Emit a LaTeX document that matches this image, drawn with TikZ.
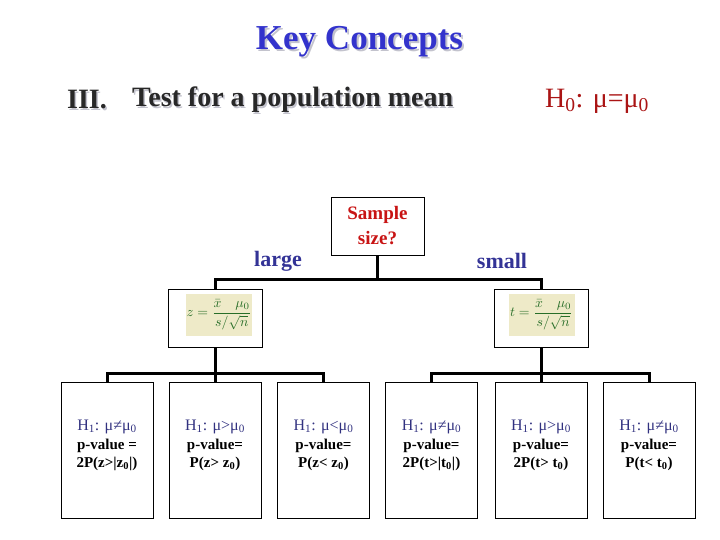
\documentclass[tikz,border=0pt]{standalone}
\usepackage{fontspec}
\setmainfont{Liberation Serif}
\definecolor{titleblue}{RGB}{51,51,204}
\definecolor{hdgray}{RGB}{40,40,40}
\definecolor{hred}{RGB}{170,20,20}
\definecolor{sred}{RGB}{200,20,20}
\definecolor{lblue}{RGB}{51,51,150}
\definecolor{hblue}{RGB}{50,50,128}
\definecolor{beige}{RGB}{238,234,200}
\definecolor{fgreen}{RGB}{40,110,40}
\definecolor{shadowgray}{RGB}{195,195,205}
\tikzset{
  conn/.style={line width=3pt},
  box/.style={draw, line width=0.8pt, rectangle, inner sep=0pt},
  leaf/.style={box, minimum width=92pt, minimum height=136pt},
  fbox/.style={box, minimum width=94pt, minimum height=58pt},
  beigebox/.style={fill=beige, minimum width=66pt, minimum height=42pt, inner sep=0pt, text=fgreen},
  leaftext/.style={align=center, font=\fontsize{15}{18}\selectfont},
  headfont/.style={font=\bfseries\fontsize{28}{32}\selectfont, inner sep=0pt, anchor=west},
  titlefont/.style={font=\bfseries\fontsize{35}{38}\selectfont},
}
\newcommand{\hone}[1]{{\color{hblue}\fontsize{16}{18}\selectfont H\textsubscript{1}: #1}}
\begin{document}
\begin{tikzpicture}[x=1pt,y=-1pt]
\useasboundingbox (0,0) rectangle (720,540);
% title
\node[titlefont, text=shadowgray] at (361.5,43.5) {Key Concepts};
\node[titlefont, text=titleblue] (title) at (359.5,41.5) {Key Concepts};
% heading
\node[headfont, text=shadowgray] at (68.5,101.5) {III.};
\node[headfont, text=hdgray] (three) at (67,100) {III.};
\node[headfont, text=shadowgray] at (133.5,101.5) {Test for a population mean};
\node[headfont, text=hdgray] (head) at (132,100) {Test for a population mean};
\node[anchor=west, text=hred, font=\fontsize{28}{32}\selectfont, inner sep=0pt] (hzero) at (545,101) {H\textsubscript{0}: μ=μ\textsubscript{0}};
% sample size
\node[box, minimum width=93pt, minimum height=58pt, align=center, text=sred,
      font=\bfseries\fontsize{19}{25}\selectfont] (samp) at (377.5,226) {Sample\\size?};
\node[text=lblue, font=\bfseries\fontsize{22}{26}\selectfont] (large) at (278,261) {large};
\node[text=lblue, font=\bfseries\fontsize{22}{26}\selectfont] (small) at (502,261) {small};
% formula boxes
\node[fbox] (fz) at (215,318) {};
\node[fbox] (ft) at (541,318) {};
\node[beigebox] (fzin) at (219,314.5) {\scalebox{1.38}{$\displaystyle z=\frac{\bar{x}\quad\mu_0}{s/\sqrt{n}}$}};
\node[beigebox] (ftin) at (541.5,314.5) {\scalebox{1.38}{$\displaystyle t=\frac{\bar{x}\quad\mu_0}{s/\sqrt{n}}$}};
% leaf boxes
\node[leaf] (b1) at (107,450) {};
\node[leaf] (b2) at (215,450) {};
\node[leaf] (b3) at (323.5,450) {};
\node[leaf] (b4) at (431.5,450) {};
\node[leaf] (b5) at (541,450) {};
\node[leaf] (b6) at (649,450) {};
\node[leaftext] (t1) at (107,445) {\hone{μ≠μ\textsubscript{0}}\\[1pt] \textbf{p-value =}\\ \textbf{2P(z>|z\textsubscript{0}|)}};
\node[leaftext] (t2) at (215,445) {\hone{μ>μ\textsubscript{0}}\\[1pt] \textbf{p-value=}\\ \textbf{P(z> z\textsubscript{0})}};
\node[leaftext] (t3) at (323.5,445) {\hone{μ<μ\textsubscript{0}}\\[1pt] \textbf{p-value=}\\ \textbf{P(z< z\textsubscript{0})}};
\node[leaftext] (t4) at (431.5,445) {\hone{μ≠μ\textsubscript{0}}\\[1pt] \textbf{p-value=}\\ \textbf{2P(t>|t\textsubscript{0}|)}};
\node[leaftext] (t5) at (541,445) {\hone{μ>μ\textsubscript{0}}\\[1pt] \textbf{p-value=}\\ \textbf{2P(t> t\textsubscript{0})}};
\node[leaftext] (t6) at (649,445) {\hone{μ≠μ\textsubscript{0}}\\[1pt] \textbf{p-value=}\\ \textbf{P(t< t\textsubscript{0})}};
% connectors
\coordinate (j0) at (377.5,279);
\coordinate (jz) at (215,373);
\coordinate (jt) at (541,373);
\draw[conn] (samp.south) -- (j0);
\draw[conn] (fz.north) |- (j0) -| (ft.north);
\draw[conn] (fz.south) -- (jz);
\draw[conn] (b1.north) |- (jz) -| (b3.north);
\draw[conn] (jz) -- (b2.north);
\draw[conn] (ft.south) -- (jt);
\draw[conn] (b4.north) |- (jt) -| (b6.north);
\draw[conn] (jt) -- (b5.north);
\end{tikzpicture}
\end{document}
